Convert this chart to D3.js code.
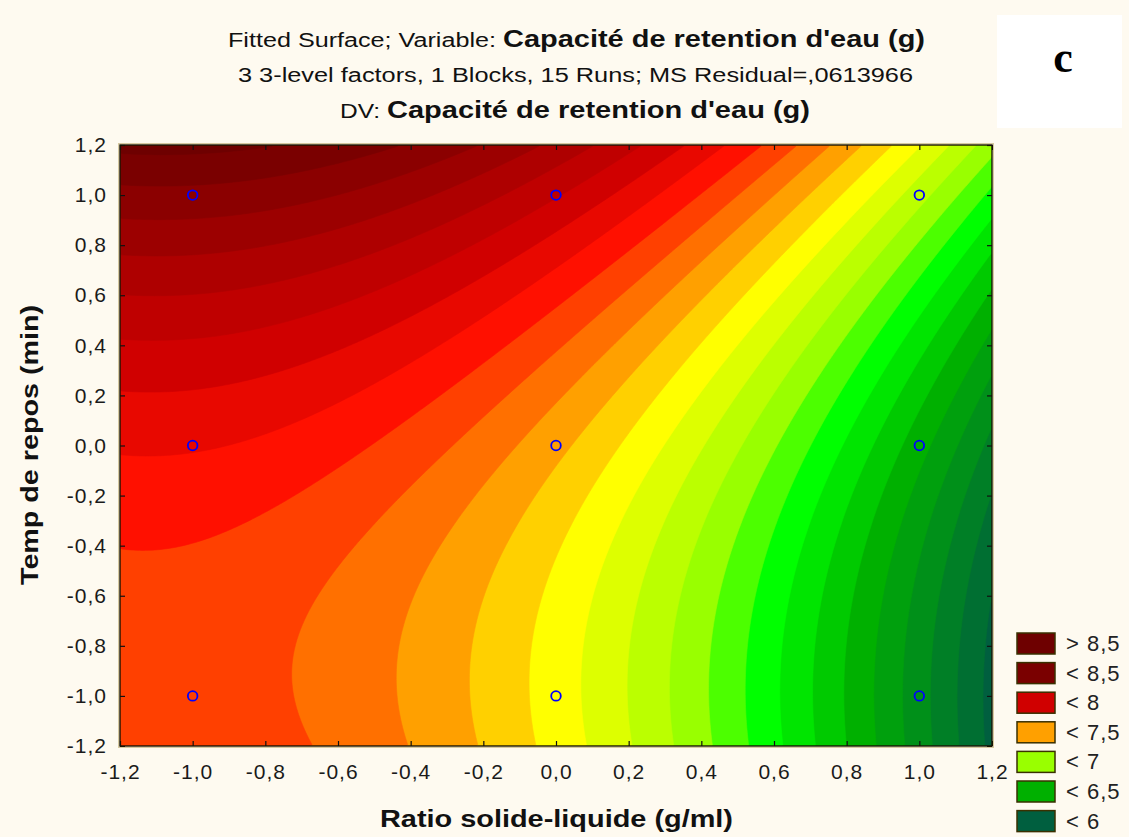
<!DOCTYPE html>
<meta charset="utf-8">
<style>
body {
  margin: 0;
  background: #fefaf0;
}
svg {
  display: block;
  font-family: "Liberation Sans", Arial, sans-serif;
}
.axis text {
  font-size: 21px;
  letter-spacing: 1px;
  fill: #1a1a1a;
}
.axis line {
  stroke: #111;
  stroke-width: 1.2;
}
</style>
<body>
<script src="https://cdn.jsdelivr.net/npm/d3@7"></script>
<script>

var width = 1129,
    height = 837;

// fitted quadratic surface (coded factors): const, x, x², y, y², x·y
var modelTerms = ["const", "x", "x2", "y", "y2", "xy"];
var modelCoefs = [7.43, -0.685, -0.305, 0.38, 0.2, 0.02];

// contour levels, step 0,1
var contourLevels = [5.6, 5.7, 5.8, 5.9, 6.0, 6.1, 6.2, 6.3, 6.4, 6.5, 6.6, 6.7,
  6.8, 6.9, 7.0, 7.1, 7.2, 7.3, 7.4, 7.5, 7.6, 7.7, 7.8, 7.9, 8.0, 8.1, 8.2,
  8.3, 8.4, 8.5, 8.6];

// design points (3-level factors)
var designX = [-1, 0, 1];
var designY = [-1, 0, 1];

var xTicks = [-1.2, -1.0, -0.8, -0.6, -0.4, -0.2, 0.0, 0.2, 0.4, 0.6, 0.8, 1.0, 1.2];
var yTicks = [-1.2, -1.0, -0.8, -0.6, -0.4, -0.2, 0.0, 0.2, 0.4, 0.6, 0.8, 1.0, 1.2];

var legendLabels = ["> 8,5", "< 8,5", "< 8", "< 7,5", "< 7", "< 6,5", "< 6"];
var legendColors = ["#6e0000", "#7a0000", "#d00000", "#ffa000", "#99ff00", "#00b000", "#005f3f"];

// band palette (value at band middle -> colour)
var color = d3.scaleLinear()
    .domain([5.95, 6.45, 6.75, 6.95, 7.25, 7.45, 7.75, 7.95, 8.45, 8.55])
    .range(["#005f3f", "#00b000", "#00ff00", "#99ff00", "#ffff00", "#ffa000",
            "#ff1000", "#d00000", "#7a0000", "#6e0000"])
    .clamp(true);

var margin = {left: 120, right: 992, top: 145, bottom: 746};

var x = d3.scaleLinear().domain([-1.2, 1.2]).range([margin.left, margin.right]);
var y = d3.scaleLinear().domain([-1.2, 1.2]).range([margin.bottom, margin.top]);

var fmt = function(d) { return d3.format(".1f")(d).replace(".", ",").replace("−", "-"); };

function surface(px, py) {
  var t = {const: 1, x: px, x2: px * px, y: py, y2: py * py, xy: px * py};
  return d3.sum(modelTerms, function(k, i) { return modelCoefs[i] * t[k]; });
}

var svg = d3.select("body").append("svg")
    .attr("width", width)
    .attr("height", height);

svg.append("rect")
    .attr("width", width)
    .attr("height", height)
    .attr("fill", "#fefaf0");

// grid of the surface, values at cell centres
var n = 288, m = 240;
var values = new Array(n * m);
for (var j = 0; j < m; j++) {
  for (var i = 0; i < n; i++) {
    var vx = -1.2 + (i + 0.5) * 2.4 / n,
        vy = 1.2 - (j + 0.5) * 2.4 / m;
    values[j * n + i] = surface(vx, vy);
  }
}

var gx = d3.scaleLinear().domain([0, n]).range([margin.left, margin.right]);
var gy = d3.scaleLinear().domain([0, m]).range([margin.top, margin.bottom]);

var path = d3.geoPath(d3.geoTransform({
  point: function(px, py) { this.stream.point(gx(px), gy(py)); }
}));

var contours = d3.contours()
    .size([n, m])
    .thresholds(contourLevels)(values);

svg.append("defs").append("clipPath")
    .attr("id", "plot-clip")
  .append("rect")
    .attr("x", margin.left)
    .attr("y", margin.top)
    .attr("width", margin.right - margin.left)
    .attr("height", margin.bottom - margin.top);

svg.append("g")
    .attr("clip-path", "url(#plot-clip)")
  .selectAll("path")
    .data(contours)
  .enter().append("path")
    .attr("d", path)
    .attr("fill", function(d) { return color(d.value + 0.05); })
    .attr("stroke", function(d) { return color(d.value + 0.05); })
    .attr("stroke-width", 0.6);

// design points
var pts = [];
designY.forEach(function(b) { designX.forEach(function(a) { pts.push([a, b]); }); });

svg.append("g").selectAll("circle")
    .data(pts)
  .enter().append("circle")
    .attr("cx", function(d) { return x(d[0]); })
    .attr("cy", function(d) { return y(d[1]); })
    .attr("r", 4.8)
    .attr("fill", "none")
    .attr("stroke", "#0000ff")
    .attr("stroke-width", 1.8);

// axes, inward ticks on four sides
svg.append("g")
    .attr("class", "axis")
    .attr("transform", "translate(0," + margin.bottom + ")")
    .call(d3.axisBottom(x).tickValues(xTicks).tickFormat(fmt).tickSize(-5).tickPadding(18));

svg.append("g")
    .attr("class", "axis")
    .attr("transform", "translate(" + margin.left + ",0)")
    .call(d3.axisLeft(y).tickValues(yTicks).tickFormat(fmt).tickSize(-5).tickPadding(13));

svg.append("g")
    .attr("class", "axis")
    .attr("transform", "translate(0," + margin.top + ")")
    .call(d3.axisTop(x).tickValues(xTicks).tickFormat("").tickSize(-5));

svg.append("g")
    .attr("class", "axis")
    .attr("transform", "translate(" + margin.right + ",0)")
    .call(d3.axisRight(y).tickValues(yTicks).tickFormat("").tickSize(-5));

svg.selectAll(".axis .domain").remove();

svg.append("rect")
    .attr("x", margin.left - 1.5)
    .attr("y", margin.top - 1.5)
    .attr("width", margin.right - margin.left + 3)
    .attr("height", margin.bottom - margin.top + 3)
    .attr("fill", "none")
    .attr("stroke", "#d6c9a0")
    .attr("stroke-width", 1);

svg.append("rect")
    .attr("x", margin.left)
    .attr("y", margin.top)
    .attr("width", margin.right - margin.left)
    .attr("height", margin.bottom - margin.top)
    .attr("fill", "none")
    .attr("stroke", "#1a1400")
    .attr("stroke-width", 1.4);

// titles
function label(txt, px, py, size, bold, len) {
  return svg.append("text")
      .attr("x", px)
      .attr("y", py)
      .attr("font-size", size)
      .attr("font-weight", bold ? "bold" : "normal")
      .attr("fill", "#111")
      .attr("textLength", len)
      .attr("lengthAdjust", "spacingAndGlyphs")
      .text(txt);
}

label("Fitted Surface; Variable:", 228, 47, 20, false, 268);
label("Capacité de retention d'eau (g)", 503, 47, 23, true, 422);
label("3 3-level factors, 1 Blocks, 15 Runs; MS Residual=,0613966", 238, 82, 20, false, 675);
label("DV:", 340, 118, 20, false, 40);
label("Capacité de retention d'eau (g)", 387, 118, 23, true, 423);

label("Ratio solide-liquide (g/ml)", 380, 827, 23, true, 353);

svg.append("text")
    .attr("transform", "translate(38,445) rotate(-90)")
    .attr("text-anchor", "middle")
    .attr("font-size", 23)
    .attr("font-weight", "bold")
    .attr("fill", "#111")
    .attr("textLength", 280)
    .attr("lengthAdjust", "spacingAndGlyphs")
    .text("Temp de repos (min)");

// panel letter
svg.append("rect")
    .attr("x", 997)
    .attr("y", 15)
    .attr("width", 125)
    .attr("height", 113)
    .attr("fill", "#fff");

svg.append("text")
    .attr("x", 1063)
    .attr("y", 72)
    .attr("text-anchor", "middle")
    .attr("font-family", "'Liberation Serif', 'DejaVu Serif', serif")
    .attr("font-weight", "bold")
    .attr("font-size", 44)
    .attr("fill", "#000")
    .text("c");

// legend
var legend = svg.append("g").selectAll("g")
    .data(legendLabels)
  .enter().append("g")
    .attr("transform", function(d, i) { return "translate(1017," + (633 + i * 29.6) + ")"; });

legend.append("rect")
    .attr("width", 38)
    .attr("height", 21)
    .attr("fill", function(d, i) { return legendColors[i]; })
    .attr("stroke", "#3a3000")
    .attr("stroke-width", 1.5);

legend.append("text")
    .attr("x", 49)
    .attr("y", 18)
    .attr("font-size", 22)
    .attr("letter-spacing", 1)
    .attr("fill", "#222")
    .text(function(d) { return d; });

</script>
